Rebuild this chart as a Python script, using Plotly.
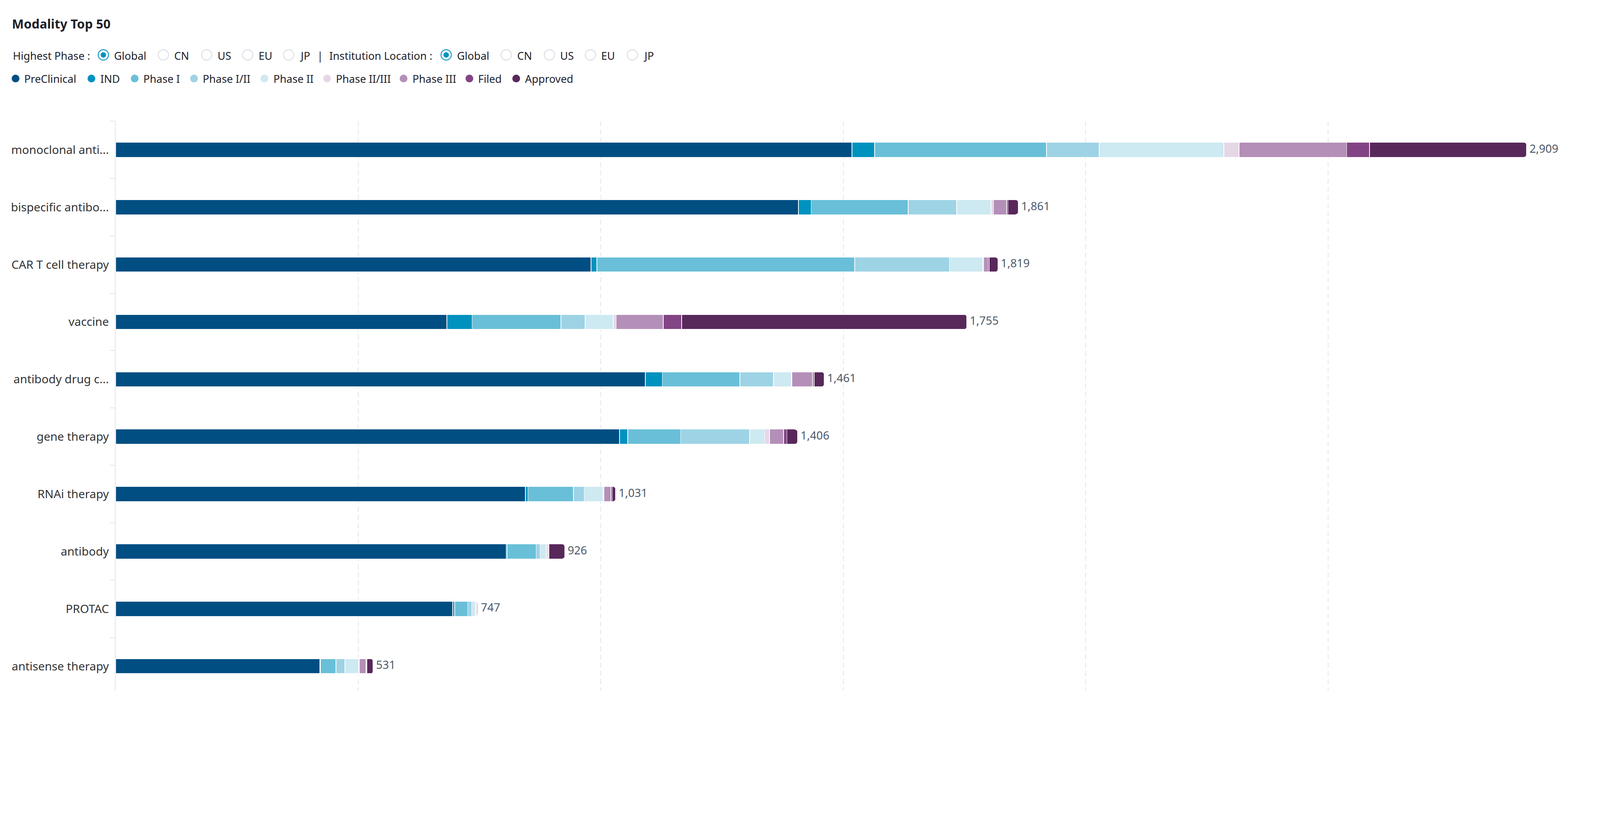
import plotly.graph_objects as go

# The page is shown at ~1.21 device scale (4956 px photo = 4096 css px),
# and the body keeps its default 8px margin, so every measurement taken
# off the reference (in photo pixels) is converted to css pixels here.
S = 4096 / 4956
OFF = 8
FIG_W, FIG_H = 4078, 1760


def css(r):
    return r * S - OFF


def sz(r):
    return r * S


ML = css(358)
MT = css(375)
MR = FIG_W - css(4729)
MB = 0

categories = ["monoclonal anti...", "bispecific antibo...", "CAR T cell therapy", "vaccine",
              "antibody drug c...", "gene therapy", "RNAi therapy", "antibody", "PROTAC",
              "antisense therapy"]

phases = ["PreClinical", "IND", "Phase I", "Phase I/II", "Phase II", "Phase II/III",
          "Phase III", "Filed", "Approved"]
phase_colors = ["#004e82", "#0092bf", "#69bfd8", "#9dd3e5", "#cde9f1", "#e6d7e7",
                "#b48fb8", "#824485", "#58285b"]

# counts per phase, one value per category (same order as categories)
preclinical = [1518, 1408, 980, 683, 1092, 1039, 845, 805, 695, 421]
ind = [47, 26, 12, 52, 35, 17, 5, 2, 4, 1]
phase_1 = [354, 200, 532, 183, 160, 109, 94, 60, 27, 32]
phase_1_2 = [109, 100, 195, 50, 69, 142, 22, 8, 8, 19]
phase_2 = [257, 71, 69, 58, 37, 31, 39, 12, 8, 28]
phase_2_3 = [31, 5, 2, 6, 1, 10, 2, 3, 3, 2]
phase_3 = [222, 27, 8, 97, 43, 29, 14, 2, 2, 13]
filed = [47, 3, 3, 38, 3, 7, 3, 1, 0, 2]
approved = [324, 21, 18, 588, 21, 22, 7, 33, 0, 13]

series = [preclinical, ind, phase_1, phase_1_2, phase_2, phase_2_3, phase_3, filed, approved]
totals = [sum(v) for v in zip(*series)]

filter_labels = ["Highest Phase :", "Institution Location :"]
region_options = ["Global", "CN", "US", "EU", "JP"]

FONT = "Noto Sans"
TEXT_DARK = "#1d2129"
GRID = "#e5e6eb"


def px_x(r):
    return (css(r) - ML) / (FIG_W - ML - MR)


def px_y(r):
    return (FIG_H - MB - css(r)) / (FIG_H - MT - MB)


fig = go.Figure()

for name, color, vals in zip(phases, phase_colors, series):
    fig.add_trace(go.Bar(
        name=name, y=categories, x=vals, orientation="h",
        marker=dict(color=color, line=dict(color="white", width=sz(2))),
        hovertemplate="%{y}<br>" + name + ": %{x:,}<extra></extra>",
    ))

# total labels at the end of each stack
fig.add_trace(go.Scatter(
    x=totals, y=categories, mode="text",
    text=[" " + f"{t:,}" for t in totals], textposition="middle right",
    textfont=dict(family=FONT, size=sz(35), color="#4e5969"),
    cliponaxis=False, showlegend=False, hoverinfo="skip",
))

shapes = []
annotations = []


def circle(cx, cy, r, fill, line_color, line_width):
    shapes.append(dict(
        type="circle", xref="paper", yref="paper",
        xsizemode="pixel", ysizemode="pixel",
        xanchor=px_x(cx), yanchor=px_y(cy),
        x0=-sz(r), x1=sz(r), y0=-sz(r), y1=sz(r),
        fillcolor=fill, line=dict(color=line_color, width=sz(line_width)),
    ))


def label(x, cy, text, size=33, color=TEXT_DARK):
    annotations.append(dict(
        xref="paper", yref="paper", x=px_x(x), y=px_y(cy),
        xanchor="left", yanchor="middle", showarrow=False, text=text,
        font=dict(family=FONT, size=sz(size), color=color),
    ))


# filter row (radio groups)
ROW1 = 172
group_starts = [37, 1018]
radio_centers = [[320, 506, 640, 767, 894], [1382, 1568, 1702, 1829, 1959]]
for lab, x0, centers in zip(filter_labels, group_starts, radio_centers):
    label(x0, ROW1, lab)
    for i, (opt, cx) in enumerate(zip(region_options, centers)):
        if i == 0:
            circle(cx, ROW1 - 2, 16, "white", "#1a9cc6", 3)
            circle(cx, ROW1 - 2, 8, "#0092bf", "#0092bf", 1)
        else:
            circle(cx, ROW1 - 2, 16, "white", "#dcdfe6", 3)
        label(cx + 31, ROW1, opt)
label(980, ROW1, "|")

# phase legend row
ROW2 = 244
legend_centers = [48, 283, 417, 601, 819, 1013, 1250, 1454, 1599]
for name, color, cx in zip(phases, phase_colors, legend_centers):
    circle(cx, ROW2 - 1, 12, color, color, 0)
    label(cx + 25, ROW2, name)

max_total = max(totals)
# last category row is cut by the bottom edge, as in the reference
y_bottom = -0.5 + (FIG_H - MT) / sz(177.7)

fig.update_layout(
    width=FIG_W, height=FIG_H, autosize=False,
    margin=dict(l=ML, r=MR, t=MT, b=MB, pad=0),
    paper_bgcolor="white", plot_bgcolor="white",
    barmode="stack", bargap=0.74, barcornerradius=sz(8),
    showlegend=False,
    font=dict(family=FONT, color="#333333"),
    title=dict(text="<b>Modality Top 50</b>", xref="container", yref="container",
               x=css(37) / FIG_W, xanchor="left", y=1 - css(75) / FIG_H, yanchor="middle",
               font=dict(family=FONT, size=sz(39), color=TEXT_DARK)),
    xaxis=dict(range=[0, max_total], tickvals=list(range(0, max_total, 500)) + [max_total],
               showticklabels=False, ticks="", showgrid=True, gridcolor=GRID,
               gridwidth=sz(3), griddash="%.0fpx,%.0fpx" % (sz(16), sz(10)),
               zeroline=False, showline=False),
    yaxis=dict(type="category", range=[y_bottom, -0.5], tickson="boundaries",
               ticks="outside", ticklen=sz(16), tickwidth=sz(3), tickcolor=GRID,
               ticklabelstandoff=round(sz(11)),
               showline=True, linecolor=GRID, linewidth=sz(3), showgrid=False,
               tickfont=dict(family=FONT, size=sz(36), color="#333333")),
    shapes=shapes, annotations=annotations,
)

fig.write_html("out.html")
